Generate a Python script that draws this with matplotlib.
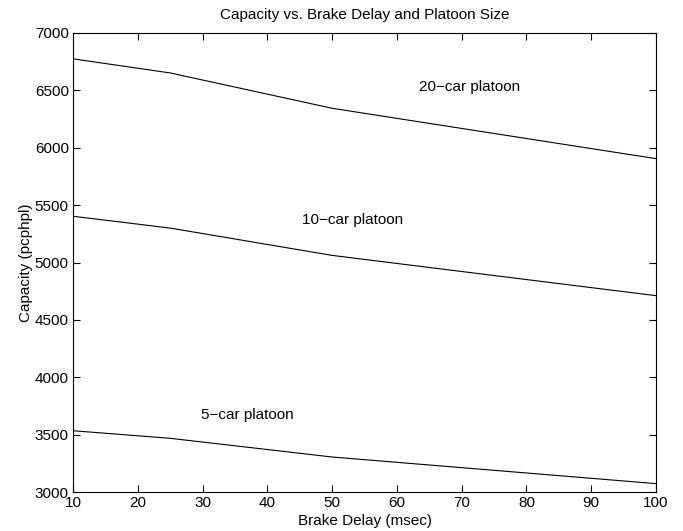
import matplotlib
matplotlib.use('Agg')
import matplotlib.pyplot as plt

plt.rcParams['font.family'] = ['Liberation Sans', 'DejaVu Sans']
plt.rcParams['axes.unicode_minus'] = True

# data
brake_delay = [10, 25, 50, 100]
cap_20 = [6775, 6652, 6344, 5905]
cap_10 = [5403, 5300, 5062, 4711]
cap_5 = [3534, 3468, 3305, 3073]

labels = ['20\u2212car platoon', '10\u2212car platoon', '5\u2212car platoon']
label_x = [63.4, 45.4, 29.7]
label_y = [6529, 5370, 3671]

FS = 11

fig = plt.figure(figsize=(6.83, 5.31), dpi=100)
ax = fig.add_axes([73 / 683, 1 - 492 / 531, 583 / 683, 459 / 531])

for ys in (cap_20, cap_10, cap_5):
    ax.plot(brake_delay, ys, color='black', linewidth=0.8)

for t, x, y in zip(labels, label_x, label_y):
    ax.text(x, y, t, fontsize=FS, ha='left', va='center')

ax.set_xlim(10, 100)
ax.set_ylim(3000, 7000)
ax.set_xticks(range(10, 101, 10))
ax.set_yticks(range(3000, 7001, 500))
ax.tick_params(direction='in', top=True, right=True, length=5, labelsize=FS, width=0.8, pad=3)
for s in ax.spines.values():
    s.set_linewidth(0.8)

ax.set_title('Capacity vs. Brake Delay and Platoon Size', fontsize=FS, pad=10)
ax.set_xlabel('Brake Delay (msec)', fontsize=FS, labelpad=3)
ax.set_ylabel('Capacity (pcphpl)', fontsize=FS, labelpad=1)

fig.savefig('out.png', dpi=100)
